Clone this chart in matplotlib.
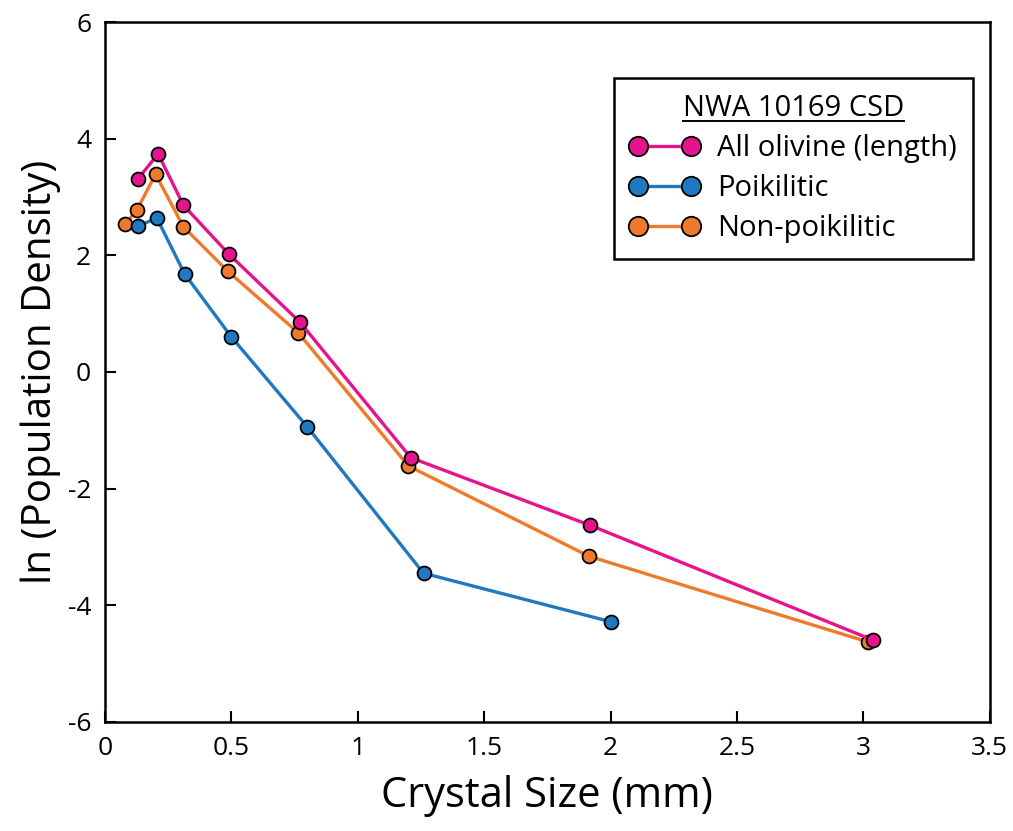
from matplotlib import pyplot as plt
from matplotlib.lines import Line2D

# crystal size (mm) and ln(population density)
all_x = [0.13, 0.21, 0.31, 0.49, 0.77, 1.21, 1.92, 3.04]
all_y = [3.31, 3.74, 2.86, 2.02, 0.86, -1.47, -2.63, -4.60]

poik_x = [0.13, 0.205, 0.315, 0.50, 0.80, 1.26, 2.00]
poik_y = [2.50, 2.64, 1.68, 0.60, -0.94, -3.45, -4.28]

nonpoik_x = [0.08, 0.125, 0.20, 0.31, 0.485, 0.765, 1.20, 1.915, 3.02]
nonpoik_y = [2.54, 2.77, 3.39, 2.49, 1.73, 0.67, -1.61, -3.16, -4.63]

x_ticks = [0, 0.5, 1, 1.5, 2, 2.5, 3, 3.5]
x_tick_labels = ['0', '0.5', '1', '1.5', '2', '2.5', '3', '3.5']
y_ticks = [-6, -4, -2, 0, 2, 4, 6]

PINK = '#e5148c'
BLUE = '#1f78c0'
ORANGE = '#ef7a2c'

narrow = ['Liberation Sans Narrow', 'Open Sans', 'DejaVu Sans']
wide = ['Open Sans', 'DejaVu Sans']


def main():
    fig = plt.figure(figsize=(10.13, 8.31), dpi=100)
    ax = fig.add_axes([0.1037, 0.1312, 0.8733, 0.8423])

    style = dict(lw=2.4, marker='o', ms=10, mec='black', mew=1.3)
    ax.plot(nonpoik_x, nonpoik_y, color=ORANGE, label='Non-poikilitic', zorder=3, **style)
    ax.plot(poik_x, poik_y, color=BLUE, label='Poikilitic', zorder=3, **style)
    ax.plot(all_x, all_y, color=PINK, label='All olivine (length)', zorder=4, **style)

    ax.set_xlim(0, 3.5)
    ax.set_ylim(-6, 6)
    ax.set_xticks(x_ticks)
    ax.set_xticklabels(x_tick_labels, family=narrow, fontsize=19)
    ax.set_yticks(y_ticks)
    ax.set_yticklabels([str(v) for v in y_ticks], family=narrow, fontsize=19)
    ax.tick_params(direction='in', length=8, width=1.5, pad=10)
    for sp in ax.spines.values():
        sp.set_linewidth(1.8)

    ax.set_xlabel('Crystal Size (mm)', family=narrow, fontsize=30, labelpad=10)
    ax.set_ylabel('ln (Population Density)', family=wide, fontsize=29, labelpad=5)

    handles = [Line2D([], [], color=c, lw=2.4, marker='o', ms=14, mec='black', mew=1.3)
               for c in (PINK, BLUE, ORANGE)]
    labels = ['All olivine (length)', 'Poikilitic', 'Non-poikilitic']
    leg = ax.legend(handles, labels, title='NWA 10169 CSD', numpoints=2,
                    loc='upper right', bbox_to_anchor=(0.981, 0.92),
                    prop={'family': wide, 'size': 21}, title_fontproperties={'family': wide, 'size': 21},
                    frameon=True, fancybox=False, edgecolor='black', framealpha=1,
                    handlelength=2.4, handletextpad=0.6, labelspacing=0.38,
                    borderpad=0.55, borderaxespad=0)
    leg.get_frame().set_linewidth(1.8)

    # underline the legend title
    fig.canvas.draw()
    tb = leg.get_title().get_window_extent().transformed(fig.transFigure.inverted())
    fig.add_artist(Line2D([tb.x0, tb.x1], [tb.y0 + 0.002, tb.y0 + 0.002],
                          color='black', lw=1.4, transform=fig.transFigure))

    fig.savefig('out.png', dpi=100)


if __name__ == '__main__':
    main()
